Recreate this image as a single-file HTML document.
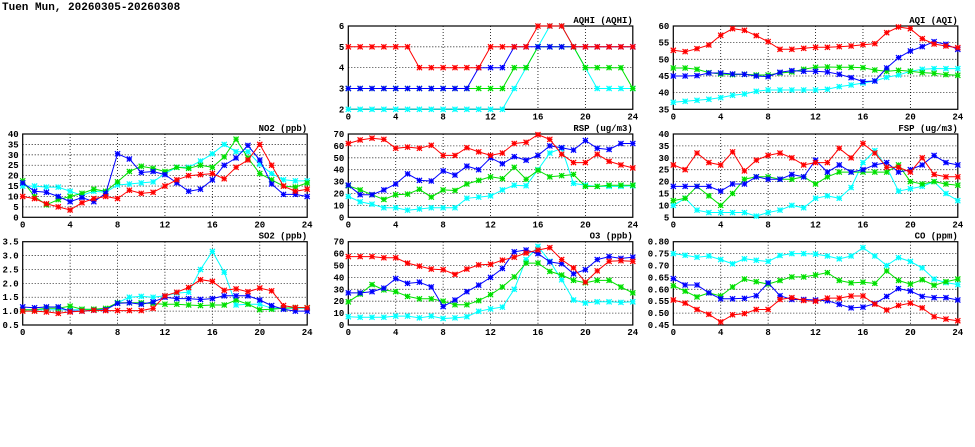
<!DOCTYPE html>
<html><head><meta charset="utf-8">
<style>
html,body{margin:0;padding:0;background:#fff;}
svg{display:block;font-family:"Liberation Mono",monospace;font-weight:bold;}
</style></head>
<body>
<svg id="chart" width="975" height="447" viewBox="0 0 975 447" xmlns="http://www.w3.org/2000/svg">
<rect width="975" height="447" fill="#fff"/>
<text x="2" y="10" font-size="11">Tuen Mun, 20260305-20260308</text>
</svg>
<script>
const hours = [0,1,2,3,4,5,6,7,8,9,10,11,12,13,14,15,16,17,18,19,20,21,22,23,24];
const xTicks = [0,4,8,12,16,20,24];
const colors = ["#00ffff","#00e000","#0000ff","#ff0000"];

const aqhiCyan=[2,2,2,2,2,2,2,2,2,2,2,2,2,2,3,4,5,6,6,5,4,3,3,3,3];
const aqhiGreen=[3,3,3,3,3,3,3,3,3,3,3,3,3,3,4,4,5,5,5,5,4,4,4,4,3];
const aqhiBlue=[3,3,3,3,3,3,3,3,3,3,3,4,4,4,5,5,5,5,5,5,5,5,5,5,5];
const aqhiRed=[5,5,5,5,5,5,4,4,4,4,4,4,5,5,5,5,6,6,6,5,5,5,5,5,5];
const aqhiTicks=[2,3,4,5,6];

const aqiCyan=[37.1,37.4,37.7,38,38.5,39.2,39.6,40.4,40.8,40.8,40.8,40.8,40.8,41,41.8,42.3,42.9,43.5,44.6,45.3,46.4,47,47.2,47.2,47.2];
const aqiGreen=[47.4,47.4,47,46,45.6,45.4,45.5,45.3,45.3,45.9,46.2,47,47.6,47.7,47.6,47.6,47.5,46.8,46.4,46.7,46.4,46,45.8,45.4,45.2];
const aqiBlue=[45,45,45.1,45.9,45.9,45.6,45.5,45,44.8,46.1,46.6,46.4,46.4,46.2,45.5,44.5,43.3,43.5,47.4,50.5,52.5,53.8,55.3,54.5,53];
const aqiRed=[52.7,52.3,53.2,54.3,57.2,59.2,58.7,57.1,55.3,53,53,53.3,53.6,53.6,53.8,54,54.4,54.7,58,59.7,59.2,56.2,54.6,54,53.5];
const aqiTicks=[35,40,45,50,55,60];

const no2Cyan=[15,15,14.5,14.5,12.5,10.5,12.5,12,15.5,16,16.5,17,21,24,24,27,30.5,35,31.5,31.5,25.5,21,18,17.5,17.5];
const no2Green=[17.5,10,6,8.5,10,11.5,13.5,12.5,17,22,24.5,23.5,22,24,23.5,25,24,29,37.5,28.5,21,18,15,14.5,16.5];
const no2Blue=[16.5,12.5,12,10,7.5,9.5,7.5,11.5,30.5,28,21.5,22,20.5,16.5,12.5,13.5,18,25,28.5,34.5,27.5,16,11,11,10];
const no2Red=[10,9,6.5,5,3.5,7,9,10,9,13,11.5,12,15,18,20,20.5,21,18.5,24,27.5,35,25,15,12.5,13.5];
const no2Ticks=[0,5,10,15,20,25,30,35,40];

const rspCyan=[17.5,13,11,8,8,6,7,8,8,8,16,17,18,23,27,26.5,40,54,58,28.5,27,26,26,26,26.5];
const rspGreen=[26.5,23,19,15,19,19.5,23.5,17,23,22.5,28,31,34,32.5,42,32,39.5,34,35,36,26,26,27,27,27];
const rspBlue=[27,19,19,23,28,36.5,31,30.5,39,35.5,43,40,50,45,51,48,52,60,58.5,56.5,64.5,58,57,62,62];
const rspRed=[62,65,66.5,65.5,58,59,58,60.5,52,52,58.5,55,52,54,62,63,69.5,65.5,53,46,46,53,47,44,41.5];
const rspTicks=[0,10,20,30,40,50,60,70];

const fspCyan=[10,13,8,7,7,7,7,5.5,7,8,10,9,13,14,13,17.5,28,33,26,16,17,18,20,15,12];
const fspGreen=[12,13,18,14,10,15,21,22,22,21,21,22,19,22,24,24,24,24,24,27,20,19,20,19,18.5];
const fspBlue=[18,18,18,18,16,19,19,22,21,21,23,22,29,24,27,24,25,27,28,24,25,27,31,28,27];
const fspRed=[27,25,32,28,27,32.5,24.5,29,31,32,30,27,28,28,34,30,36,32,26,26,24,30,23,22,22];
const fspTicks=[5,10,15,20,25,30,35,40];

const so2Cyan=[1.05,1.05,1.05,1.05,1.05,1.05,1.05,1.05,1.3,1.5,1.53,1.5,1.55,1.65,1.68,2.5,3.15,2.4,1.22,1.25,1.25,1.1,1.1,1.1,1.1];
const so2Green=[1.05,1.05,1.1,1.1,1.18,1.07,1.07,1.1,1.3,1.3,1.3,1.27,1.25,1.25,1.22,1.2,1.22,1.22,1.4,1.25,1.05,1.07,1.1,1.13,1.12];
const so2Blue=[1.15,1.12,1.15,1.15,1.0,1.0,1.03,1.05,1.28,1.3,1.25,1.33,1.5,1.45,1.45,1.42,1.45,1.55,1.55,1.55,1.4,1.2,1.07,1.0,1.0];
const so2Red=[1,1,0.97,0.92,0.97,1,1.03,1.02,1.02,1.02,1.02,1.1,1.55,1.68,1.85,2.13,2.07,1.75,1.8,1.7,1.83,1.73,1.2,1.13,1.12];
const so2Ticks=[0.5,1.0,1.5,2.0,2.5,3.0,3.5];

const o3Cyan=[7,6.5,6.5,6.5,7.5,7.5,6,7.5,5.5,6,7,11.5,13.5,15,30,55,66,53.5,38,21,18.5,19.5,19.5,19,19.5];
const o3Green=[19.5,26,34,29.5,28,24,22,22,20,17,17,20.5,25.5,32,40.5,52,52,45,42,37.5,35.5,37.5,37.5,32,27];
const o3Blue=[27,27,28,31,39,35,36,32,15.5,21,28,33.5,40,47.5,61.5,63,60,53,51.5,43,46.5,55,57.5,56,57];
const o3Red=[57.5,57.5,57.5,56.5,56.5,52,49.5,47,46.5,42.5,47,50.5,51,54.5,57,60.5,63,65,55,48,36,45.5,53.5,54,53.5];
const o3Ticks=[0,10,20,30,40,50,60,70];

const coCyan=[0.75,0.743,0.735,0.74,0.725,0.707,0.728,0.722,0.717,0.742,0.75,0.75,0.748,0.74,0.728,0.74,0.775,0.74,0.7,0.733,0.717,0.69,0.643,0.628,0.62];
const coGreen=[0.615,0.592,0.568,0.585,0.572,0.61,0.643,0.632,0.622,0.637,0.652,0.652,0.66,0.67,0.637,0.627,0.63,0.625,0.677,0.637,0.622,0.64,0.617,0.632,0.643];
const coBlue=[0.645,0.618,0.618,0.585,0.56,0.56,0.562,0.573,0.627,0.573,0.557,0.557,0.555,0.552,0.537,0.522,0.525,0.54,0.57,0.603,0.593,0.57,0.565,0.565,0.555];
const coRed=[0.555,0.542,0.515,0.495,0.463,0.493,0.498,0.515,0.515,0.557,0.565,0.553,0.55,0.563,0.563,0.572,0.572,0.538,0.513,0.532,0.542,0.522,0.485,0.475,0.468];
const coTicks=[0.45,0.50,0.55,0.60,0.65,0.70,0.75,0.80];

const NS="http://www.w3.org/2000/svg";
const svg=document.getElementById("chart");
function mk(tag,attrs,parent){const e=document.createElementNS(NS,tag);for(const k in attrs)e.setAttribute(k,attrs[k]);(parent||svg).appendChild(e);return e;}

function panel(name,title,left,top,ticks,dec,series){
  const W=284.5,H=83.3;
  const g=mk("g",{});
  
  
  const ymin=ticks[0],ymax=ticks[ticks.length-1];
  const xs=h=>left+h/24*W;
  const ys=v=>top+H-(v-ymin)/(ymax-ymin)*H;
  ticks.forEach(t=>{
    const y=ys(t);
    if(t!==ymin&&t!==ymax){const l=mk("line",{x1:left,x2:left+W,y1:y,y2:y,stroke:"#000","stroke-width":0.8,"stroke-dasharray":"1,2"},g);
      
      }
    const tx=mk("text",{x:left-4,y:y+3,"font-size":9,"text-anchor":"end"},g);
    
    
    tx.textContent=t.toFixed(dec);
  });
  xTicks.forEach(t=>{
    const x=xs(t);
    if(t!==0&&t!==24){const l=mk("line",{x1:x,x2:x,y1:top,y2:top+H,stroke:"#000","stroke-width":0.8,"stroke-dasharray":"1,2"},g);
      
      }
    const tx=mk("text",{x:x,y:top+H+10,"font-size":9,"text-anchor":"middle"},g);
    
    
    tx.textContent=t;
  });
  const fr=mk("rect",{x:left,y:top,width:W,height:H,fill:"none",stroke:"#000","stroke-width":1.2},g);
  
  
  const tt=mk("text",{x:left+W,y:top-3,"font-size":9,"text-anchor":"end"},g);
  
  
  tt.textContent=title;
  const sn=["cyan","green","blue","red"];
  series.forEach((vals,i)=>{
    const c=colors[i];
    const pts=vals.map((v,h)=>xs(hours[h]).toFixed(1)+","+ys(v).toFixed(1)).join(" ");
    const pl=mk("polyline",{points:pts,fill:"none",stroke:c,"stroke-width":1},g);
    
    
    vals.forEach((v,h)=>{
      const x=xs(hours[h]),y=ys(v),r=2.6;
      const m=mk("path",{d:`M${x-r},${y-r}L${x+r},${y+r}M${x-r},${y+r}L${x+r},${y-r}M${x},${y-r}L${x},${y+r}M${x-r},${y}L${x+r},${y}`,stroke:c,"stroke-width":1.2,fill:"none"},g);
      
      
    });
  });
}
const L=[22.7,348.3,673.3],T=[26,134,241.7];
panel("aqhi","AQHI (AQHI)",L[1],T[0],aqhiTicks,0,[aqhiCyan,aqhiGreen,aqhiBlue,aqhiRed]);
panel("aqi","AQI (AQI)",L[2],T[0],aqiTicks,0,[aqiCyan,aqiGreen,aqiBlue,aqiRed]);
panel("no2","NO2 (ppb)",L[0],T[1],no2Ticks,0,[no2Cyan,no2Green,no2Blue,no2Red]);
panel("rsp","RSP (ug/m3)",L[1],T[1],rspTicks,0,[rspCyan,rspGreen,rspBlue,rspRed]);
panel("fsp","FSP (ug/m3)",L[2],T[1],fspTicks,0,[fspCyan,fspGreen,fspBlue,fspRed]);
panel("so2","SO2 (ppb)",L[0],T[2],so2Ticks,1,[so2Cyan,so2Green,so2Blue,so2Red]);
panel("o3","O3 (ppb)",L[1],T[2],o3Ticks,0,[o3Cyan,o3Green,o3Blue,o3Red]);
panel("co","CO (ppm)",L[2],T[2],coTicks,2,[coCyan,coGreen,coBlue,coRed]);
</script>
</body></html>
